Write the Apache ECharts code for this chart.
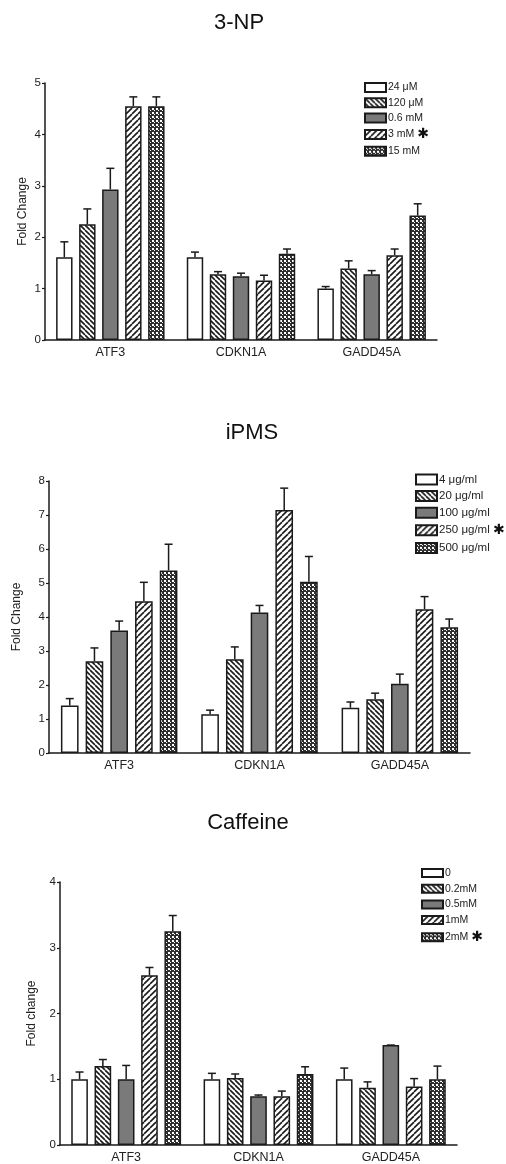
<!DOCTYPE html>
<html>
<head>
<meta charset="utf-8">
<script src="https://cdn.jsdelivr.net/npm/echarts@6/dist/echarts.min.js"></script>
<style>
  html, body { margin: 0; padding: 0; background: #fff; }
  #chart { width: 506px; height: 1164px; }
</style>
</head>
<body>
<div id="chart"></div>
<script>
// genes on the x axis (same for all three panels)
const genes = ["ATF3", "CDKN1A", "GADD45A"];

// 3-NP panel: mean fold change per dose, values across genes
const npDoses = ["24 μM", "120 μM", "0.6 mM", "3 mM", "15 mM"];
const npMeans = [
  [1.61, 1.61, 1.00],
  [2.25, 1.28, 1.39],
  [2.93, 1.24, 1.28],
  [4.55, 1.16, 1.65],
  [4.55, 1.68, 2.42],
];
const npSem = [
  [0.30, 0.10, 0.04],
  [0.30, 0.05, 0.15],
  [0.41, 0.06, 0.07],
  [0.18, 0.10, 0.12],
  [0.18, 0.09, 0.23],
];

// iPMS panel
const pmsDoses = ["4 μg/ml", "20 μg/ml", "100 μg/ml", "250 μg/ml", "500 μg/ml"];
const pmsMeans = [
  [1.40, 1.14, 1.33],
  [2.70, 2.76, 1.58],
  [3.60, 4.13, 2.04],
  [4.46, 7.15, 4.23],
  [5.37, 5.04, 3.70],
];
const pmsSem = [
  [0.20, 0.12, 0.17],
  [0.39, 0.36, 0.18],
  [0.28, 0.21, 0.28],
  [0.56, 0.64, 0.37],
  [0.77, 0.74, 0.24],
];

// Caffeine panel
const cafDoses = ["0", "0.2mM", "0.5mM", "1mM", "2mM"];
const cafMeans = [
  [1.00, 1.00, 1.00],
  [1.20, 1.02, 0.87],
  [1.00, 0.74, 1.52],
  [2.58, 0.74, 0.89],
  [3.25, 1.08, 1.00],
];
const cafSem = [
  [0.11, 0.09, 0.17],
  [0.10, 0.06, 0.09],
  [0.21, 0.02, 0.00],
  [0.12, 0.08, 0.12],
  [0.24, 0.11, 0.20],
];

const CAT_GAP = 0.17;
const BAR_GAP = 0.4;
const INK = "#1a1a1a";
const FONT = "'Liberation Sans', Arial, sans-serif";

/** tiled fills for the five doses */
function tile(size, draw) {
  const c = document.createElement("canvas");
  c.width = size;
  c.height = size;
  const ctx = c.getContext("2d");
  ctx.fillStyle = "#fff";
  ctx.fillRect(0, 0, size, size);
  draw(ctx, size);
  return { image: c, repeat: "repeat" };
}
function stripes(back, size, lw) {
  return tile(size, (ctx, s) => {
    ctx.strokeStyle = INK;
    ctx.lineWidth = lw;
    for (let k = -1; k <= 1; k++) {
      ctx.beginPath();
      if (back) {
        ctx.moveTo(k * s, 0);
        ctx.lineTo(k * s + s, s);
      } else {
        ctx.moveTo(k * s, s);
        ctx.lineTo(k * s + s, 0);
      }
      ctx.stroke();
    }
  });
}
const fills = [
  "#ffffff",
  stripes(true, 5, 1.6),
  "#7a7a7a",
  stripes(false, 6, 1.6),
  tile(4, (ctx) => {
    ctx.fillStyle = "#2e2e2e";
    ctx.fillRect(0, 0, 4, 4);
    ctx.fillStyle = "#fff";
    ctx.fillRect(0, 0, 2, 2);
    ctx.fillRect(2, 2, 1, 1);
  }),
];

// panel layout
const panels = [
  {
    title: "3-NP", titleX: 234, titleY: 7,
    grid: { left: 45, right: 69, top: 83, bottom: 824 },
    max: 5, yName: "Fold Change", nameGap: 16,
    doses: npDoses, means: npMeans, sem: npSem, star: "3 mM",
    legend: { left: 364, top: 82, itemHeight: 9, itemGap: 4.2, fontSize: 10.5 },
  },
  {
    title: "iPMS", titleX: 247, titleY: 417,
    grid: { left: 49, right: 36, top: 481, bottom: 411 },
    max: 8, yName: "Fold Change", nameGap: 26,
    doses: pmsDoses, means: pmsMeans, sem: pmsSem, star: "250 μg/ml",
    legend: { left: 415, top: 473.5, itemHeight: 10, itemGap: 4.6, fontSize: 11.5 },
  },
  {
    title: "Caffeine", titleX: 243, titleY: 807,
    grid: { left: 60, right: 49, top: 882, bottom: 18 },
    max: 4, yName: "Fold change", nameGap: 22,
    doses: cafDoses, means: cafMeans, sem: cafSem, star: "2mM",
    legend: { left: 421, top: 867.5, itemHeight: 8, itemGap: 4.7, fontSize: 10.5 },
  },
];

function errRender(idx) {
  return function (params, api) {
    const x = api.value(0);
    const base = api.coord([x, api.value(1)]);
    const top = api.coord([x, api.value(2)]);
    const band = api.size([1, 0])[0];
    const used = band * (1 - CAT_GAP);
    const w = used / (5 + 4 * BAR_GAP);
    const cx = base[0] - used / 2 + w / 2 + idx * w * (1 + BAR_GAP);
    const half = 4;
    const style = { stroke: INK, lineWidth: 1.5 };
    return {
      type: "group",
      children: [
        { type: "line", shape: { x1: cx, y1: base[1], x2: cx, y2: top[1] }, style },
        { type: "line", shape: { x1: cx - half, y1: top[1], x2: cx + half, y2: top[1] }, style },
      ],
    };
  };
}

const option = {
  animation: false,
  backgroundColor: "#fff",
  textStyle: { fontFamily: FONT },
  title: [],
  grid: [],
  xAxis: [],
  yAxis: [],
  legend: [],
  series: [],
};

panels.forEach((p, pi) => {
  option.title.push({
    text: p.title,
    left: p.titleX,
    top: p.titleY,
    textAlign: "center",
    textStyle: { fontFamily: FONT, fontSize: 22, fontWeight: "normal", color: "#111" },
  });
  option.grid.push(Object.assign({ containLabel: false }, p.grid));
  option.xAxis.push({
    type: "category",
    gridIndex: pi,
    data: genes,
    axisLine: { lineStyle: { color: INK, width: 1.5 } },
    axisTick: { alignWithLabel: true, length: 3, lineStyle: { color: INK, width: 1.2 } },
    axisLabel: { color: "#222", fontSize: 12.5, margin: 6, fontFamily: FONT },
  });
  option.yAxis.push({
    type: "value",
    gridIndex: pi,
    min: 0,
    max: p.max,
    interval: 1,
    name: p.yName,
    nameLocation: "middle",
    nameGap: p.nameGap,
    nameMoveOverlap: false,
    nameTextStyle: { color: "#222", fontSize: 12, fontFamily: FONT },
    splitLine: { show: false },
    axisLine: { show: true, lineStyle: { color: INK, width: 1.5 } },
    axisTick: { show: true, length: 3, lineStyle: { color: INK, width: 1.2 } },
    axisLabel: { color: "#222", fontSize: 11.5, margin: 4, fontFamily: FONT },
  });
  option.legend.push({
    data: p.doses,
    orient: "vertical",
    left: p.legend.left,
    top: p.legend.top,
    itemWidth: 21,
    itemHeight: p.legend.itemHeight,
    itemGap: p.legend.itemGap,
    icon: "rect",
    selectedMode: false,
    padding: 0,
    formatter: (name) => (name === p.star ? name + " {s|✱}" : name),
    textStyle: {
      color: "#222",
      fontSize: p.legend.fontSize,
      fontFamily: FONT,
      lineHeight: 11,
      padding: [0, 0, 0, -3],
      rich: { s: { fontSize: 14, fontFamily: "'DejaVu Sans'", color: "#111", lineHeight: 11 } },
    },
  });
  p.doses.forEach((dose, i) => {
    option.series.push({
      name: dose,
      type: "bar",
      xAxisIndex: pi,
      yAxisIndex: pi,
      data: p.means[i],
      barGap: "40%",
      barCategoryGap: "17%",
      itemStyle: { color: fills[i], borderColor: INK, borderWidth: 1.5 },
      z: 2,
    });
    option.series.push({
      type: "custom",
      xAxisIndex: pi,
      yAxisIndex: pi,
      renderItem: errRender(i),
      data: genes.map((g, j) => [j, p.means[i][j], p.means[i][j] + p.sem[i][j]]),
      z: 1,
    });
  });
});

const chart = echarts.init(document.getElementById("chart"), null, { renderer: "canvas" });
chart.setOption(option);
</script>
</body>
</html>
